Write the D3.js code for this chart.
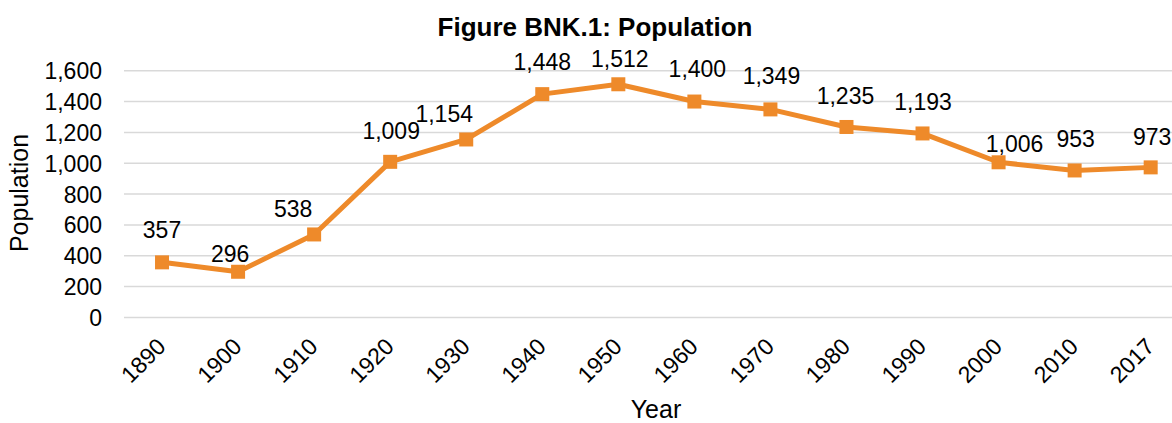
<!DOCTYPE html>
<html>
<head>
<meta charset="utf-8">
<script src="https://cdn.jsdelivr.net/npm/d3@7"></script>
<style>
  html, body { margin: 0; padding: 0; background: #fff; }
  svg { display: block; font-family: "Liberation Sans", Arial, sans-serif; }
</style>
</head>
<body>
<svg id="chart" width="1172" height="423"></svg>
<script>
// ---- data ----
const years = ["1890","1900","1910","1920","1930","1940","1950","1960","1970","1980","1990","2000","2010","2017"];
const population = [357, 296, 538, 1009, 1154, 1448, 1512, 1400, 1349, 1235, 1193, 1006, 953, 973];
const yTicks = [0, 200, 400, 600, 800, 1000, 1200, 1400, 1600];
// label nudges (layout only): [dx, dy] from the marker centre
const labelNudge = [[0,-24],[-8,-10],[-21,-17],[1,-23],[-22,-17.5],[0,-24],[1.5,-17],[3,-24.5],[1,-25],[-1,-23.4],[0.5,-23],[16,-10.4],[1,-23.5],[1.5,-22]];

// ---- layout ----
const svg = d3.select("#chart");
const plotLeft = 124, step = 76.05;
const x = d3.scalePoint().domain(years).range([plotLeft, plotLeft + step * years.length]).padding(0.5);
const y = d3.scaleLinear().domain([0, 1600]).range([317.4, 70.7]);
const color = "#EE8A2A";
const fmt = d3.format(",");

// gridlines
svg.append("g").selectAll("line").data(yTicks).join("line")
  .attr("x1", plotLeft).attr("x2", plotLeft + step * years.length)
  .attr("y1", d => y(d)).attr("y2", d => y(d))
  .attr("stroke", "#D9D9D9").attr("stroke-width", 1.5);

// y axis (labels only)
const yAxis = d3.axisLeft(y).tickValues(yTicks).tickFormat(fmt).tickSize(0).tickPadding(0);
const yg = svg.append("g").attr("transform", "translate(102,0)").call(yAxis);
yg.select(".domain").remove();
yg.selectAll("text").attr("font-size", 23).attr("fill", "#000")
  .attr("font-family", "Liberation Sans, Arial, sans-serif").attr("dy", "0.35em");

// x axis (rotated labels)
const xAxis = d3.axisBottom(x).tickSize(0).tickPadding(0);
const xg = svg.append("g").call(xAxis);
xg.select(".domain").remove();
xg.selectAll(".tick").attr("transform", d => `translate(${x(d) + 5},348)`);
xg.selectAll("text").attr("font-size", 23).attr("fill", "#000")
  .attr("font-family", "Liberation Sans, Arial, sans-serif")
  .attr("y", 0).attr("dy", 0).attr("text-anchor", "end")
  .attr("transform", "rotate(-45)");

// line
const line = d3.line().x((d, i) => x(years[i])).y(d => y(d));
svg.append("path").datum(population)
  .attr("d", line).attr("fill", "none")
  .attr("stroke", color).attr("stroke-width", 5).attr("stroke-linejoin", "round");

// markers
const ms = 14;
svg.append("g").selectAll("rect").data(population).join("rect")
  .attr("x", (d, i) => x(years[i]) - ms / 2)
  .attr("y", d => y(d) - ms / 2)
  .attr("width", ms).attr("height", ms)
  .attr("fill", color);

// data labels
svg.append("g").selectAll("text").data(population).join("text")
  .attr("x", (d, i) => x(years[i]) + labelNudge[i][0])
  .attr("y", (d, i) => y(d) + labelNudge[i][1])
  .attr("text-anchor", "middle").attr("font-size", 23).attr("fill", "#000")
  .text(d => fmt(d));

// title
svg.append("text").attr("x", 595).attr("y", 36).attr("text-anchor", "middle")
  .attr("font-size", 26).attr("font-weight", "bold").attr("fill", "#000")
  .text("Figure BNK.1: Population");

// axis titles
svg.append("text").attr("x", 656).attr("y", 418).attr("text-anchor", "middle")
  .attr("font-size", 25).attr("fill", "#000").text("Year");
svg.append("text").attr("transform", "translate(28,193) rotate(-90)")
  .attr("text-anchor", "middle").attr("font-size", 25).attr("fill", "#000")
  .text("Population");
</script>
</body>
</html>
